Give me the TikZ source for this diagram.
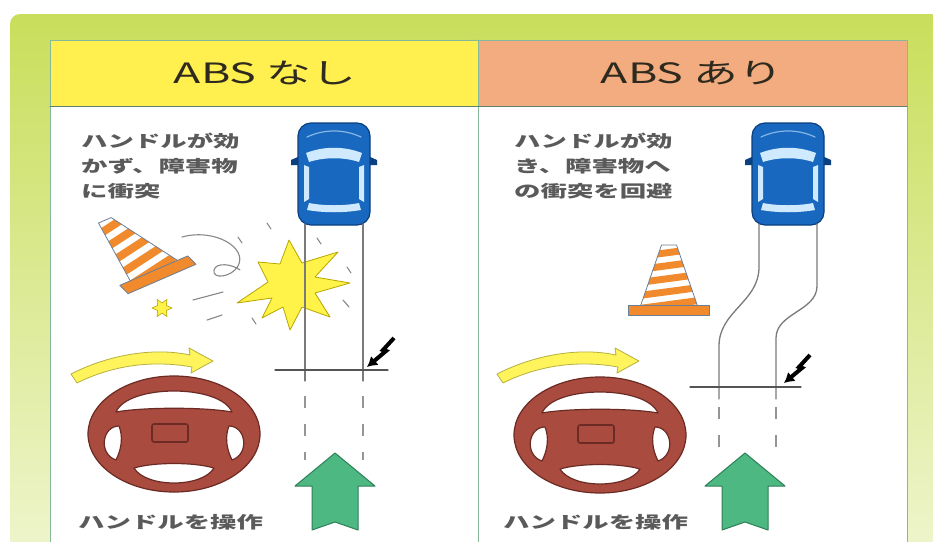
\documentclass[tikz,border=0pt]{standalone}
\usepackage{fontspec}
\newfontfamily\jpfont[FakeStretch=1.6]{Noto Sans CJK JP}
\usetikzlibrary{arrows.meta, positioning}
\definecolor{cframe}{HTML}{C9DE5B}
\definecolor{cedge}{HTML}{86B89B}
\definecolor{cyellow}{HTML}{FFEF4F}
\definecolor{csalmon}{HTML}{F3AC80}
\definecolor{chead}{HTML}{2E2A1E}
\definecolor{ctext}{HTML}{5A5A5A}
\definecolor{ccar}{HTML}{1768BE}
\definecolor{ccarline}{HTML}{0B3F80}
\definecolor{cglass}{HTML}{CFEAFF}
\definecolor{ccone}{HTML}{F08A2C}
\definecolor{cconeline}{HTML}{6C7E96}
\definecolor{cwheel}{HTML}{A94B3E}
\definecolor{cwheelline}{HTML}{6B2B24}
\definecolor{cturn}{HTML}{FFF45C}
\definecolor{cturnline}{HTML}{B5B040}
\definecolor{cgo}{HTML}{4DB882}
\definecolor{cgoline}{HTML}{2E7F58}
\definecolor{cspark}{HTML}{FFF34A}
\definecolor{csparkline}{HTML}{B8A600}
\definecolor{ctrack}{HTML}{7A7A7A}
\tikzset{
  every picture/.style={x=1pt, y=-1pt, line join=round, line cap=round},
  head/.style={font=\jpfont\fontsize{28}{30}\selectfont, text=chead, inner sep=0pt},
  note/.style={font=\jpfont\bfseries\fontsize{16.5}{25}\selectfont, text=ctext, align=left, inner sep=0pt, anchor=west},
  track/.style={draw=ctrack, line width=1.3pt},
  trackdash/.style={draw=ctrack!80, line width=1.6pt, line cap=butt, dash pattern=on 12pt off 16pt},
  stopline/.style={draw=ctrack!70!black, line width=1.2pt},
  hit/.style={draw=black, line width=4pt, line cap=butt, line join=miter, -{Latex[length=10pt, width=12pt]}},
  debris/.style={draw=ctrack!90, line width=1.1pt},
  glass/.style={fill=cglass},
  % car seen from above, front up
  car/.pic={
    \coordinate (-wl) at (-29,50);
    \coordinate (-wr) at (29,50);
    \fill[ccarline] (-34,-18) -- (-43,-14) -- (-43,-9) -- (-34,-9) -- cycle;
    \fill[ccarline] (34,-18) -- (43,-14) -- (43,-9) -- (34,-9) -- cycle;
    \filldraw[fill=ccar, draw=ccarline, line width=1.2pt, rounded corners=13pt] (-36,-51) rectangle (36,51);
    \draw[cglass!60!ccar, line width=1.2pt] (-27,-37) .. controls (-10,-45) and (10,-45) .. (27,-37);
    \fill[glass] (-28,-21) .. controls (-10,-28) and (10,-28) .. (28,-21) -- (25,-12) .. controls (10,-17) and (-10,-17) .. (-25,-12) -- cycle;
    \fill[glass] (-30,-9) -- (-25,-7) -- (-25,25) -- (-30,28) -- cycle;
    \fill[glass] (30,-9) -- (25,-7) -- (25,25) -- (30,28) -- cycle;
    \fill[glass] (-25,29) .. controls (-10,32) and (10,32) .. (25,29) -- (27,36) .. controls (10,39) and (-10,39) .. (-27,36) -- cycle;
  },
  % striped traffic cone, base centre at the origin
  cone/.pic={
    \begin{scope}
      \clip (-19,-9) -- (-5,-70) -- (5,-70) -- (19,-9) -- cycle;
      \fill[white] (-30,-75) rectangle (30,0);
      \foreach \k in {0,...,4}
        \fill[ccone] (-30,-60+13*\k) -- (30,-72+13*\k) -- (30,-65+13*\k) -- (-30,-53+13*\k) -- cycle;
    \end{scope}
    \draw[cconeline, line width=0.8pt] (-19,-9) -- (-5,-70) -- (5,-70) -- (19,-9);
    \filldraw[fill=ccone, draw=cconeline, line width=0.8pt] (-27,-10) rectangle (27,0);
  },
  % steering wheel
  wheel/.pic={
    \filldraw[fill=cwheel, draw=cwheelline, line width=1.2pt] (0,0) ellipse [x radius=86, y radius=58];
    \filldraw[fill=white, draw=cwheelline, line width=1.2pt]
      (-58,-22) .. controls (-46,-50) and (46,-50) .. (58,-22) .. controls (30,-27) and (-30,-27) .. cycle
      (-40,34) .. controls (-20,28) and (20,28) .. (40,34) .. controls (28,54) and (-28,54) .. cycle
      (-55,-8) .. controls (-72,-8) and (-76,20) .. (-58,26) .. controls (-52,14) and (-51,2) .. cycle
      (55,-8) .. controls (72,-8) and (76,20) .. (58,26) .. controls (52,14) and (51,2) .. cycle;
    \draw[cwheelline, line width=1.6pt, rounded corners=2pt] (-22,-10) rectangle (14,8);
  },
  % curved turning arrow, tip at the origin
  turn/.pic={
    \filldraw[fill=cturn, draw=cturnline, line width=0.8pt]
      (0,0) -- (-24,-13) -- (-23,-6) .. controls (-60,-14) and (-105,-6) .. (-142,13)
      -- (-136,22) .. controls (-100,4) and (-60,-1) .. (-21,6) -- (-22,12) -- cycle;
  },
  % thick arrow for the direction of travel, tip at the origin
  go/.pic={
    \filldraw[fill=cgo, draw=cgoline, line width=1pt]
      (0,0) -- (40,33) -- (23,33) -- (23,77) -- (0,69) -- (-23,77) -- (-23,33) -- (-40,33) -- cycle;
  },
}

\begin{document}
\begin{tikzpicture}
  \useasboundingbox (0,0) rectangle (933,541);
  \clip (0,0) rectangle (933,541);
  % frame and table
  \shade[top color=cframe, bottom color=cframe!25, rounded corners=10pt] (10,14) rectangle (960,600);
  \fill[white] (50,40) rectangle (907,600);
  \fill[cyellow] (50,40) rectangle (478,106);
  \fill[csalmon] (478,40) rectangle (907,106);
  \draw[cedge, line width=1pt] (50,600) -- (50,40) -- (907,40) -- (907,600);
  \draw[cedge, line width=1pt] (478,40) -- (478,600);
  \draw[cedge!70!black, line width=1pt] (50,106) -- (907,106);
  \node[head] (headL) at (265,73) {ABS なし};
  \node[head] (headR) at (692,73) {ABS あり};

  % ---- without ABS ----
  \node[note] (noteL) at (81,166) {ハンドルが効\\かず、障害物\\に衝突};
  \pic[xscale=1.5, rotate=33] (coneL) at (162,279) {cone};
  \draw[debris] (182,237) .. controls (215,228) and (248,248) .. (238,266)
    .. controls (232,277) and (212,280) .. (214,270) .. controls (216,262) and (232,264) .. (240,270);
  \foreach \a/\b in {267/223, 238/237, 317/238, 347/267, 252/318}
    \draw[debris] (\a,\b) -- ++(4,6);
  \draw[debris] (193,300) -- (223,292);
  \draw[debris] (207,320) -- (222,315);
  \draw[debris] (343,300) -- (349,307);
  \filldraw[fill=cspark, draw=csparkline, line width=0.8pt]
    (289,240) -- (302,263) -- (338,252) -- (315,277) -- (350,283) -- (315,293) -- (330,317) -- (302,307)
    -- (290,330) -- (283,307) -- (262,318) -- (272,298) -- (237,303) -- (268,282) -- (258,262) -- (280,264) -- cycle;
  \filldraw[fill=cspark, draw=csparkline, line width=0.6pt, shift={(162,308)}]
    (0:10) -- (30:5) -- (60:10) -- (90:5) -- (120:10) -- (150:5) -- (180:10) -- (210:5)
    -- (240:10) -- (270:5) -- (300:10) -- (330:5) -- cycle;
  \coordinate (endL1) at (305,381);
  \coordinate (endL2) at (363,381);
  \coordinate (stopLw) at (275,370);
  \coordinate (stopLe) at (388,370);
  \coordinate (hitLs) at (394,338);
  \coordinate (hitL) at (367,367);
  \pic (carL) at (334,174) {car};
  \draw[track] (carL-wl) -- (endL1);
  \draw[track] (carL-wr) -- (endL2);
  \draw[stopline] (stopLw) -- (stopLe);
  \draw[trackdash] (endL1) ++(0,15) -- ++(0,64);
  \draw[trackdash] (endL2) ++(0,15) -- ++(0,64);
  \draw[hit] (hitLs) -- ++(-11,12) -- ++(3,1) -- (hitL);
  \pic (turnL) at (213,361) {turn};
  \pic (wheelL) at (174,434) {wheel};
  \pic (goL) at (335,453) {go};
  \node[note] (opL) at (78,522) {ハンドルを操作};

  % ---- with ABS ----
  \node[note] (noteR) at (514,166) {ハンドルが効\\き、障害物へ\\の衝突を回避};
  \pic[xscale=1.5] (coneR) at (669,315) {cone};
  \coordinate (bendR1) at (719,346);
  \coordinate (bendR2) at (776,338);
  \coordinate (endR1) at (719,399);
  \coordinate (endR2) at (776,399);
  \coordinate (stopRw) at (690,387);
  \coordinate (stopRe) at (801,387);
  \coordinate (hitRs) at (810,355);
  \coordinate (hitR) at (784,383);
  \pic (carR) at (788,174) {car};
  \draw[track] (carR-wl) -- ++(0,43) .. controls +(0,35) and +(0,-35) .. (bendR1) -- (endR1);
  \draw[track] (carR-wr) -- ++(0,62) .. controls +(0,25) and +(0,-25) .. (bendR2) -- (endR2);
  \draw[stopline] (stopRw) -- (stopRe);
  \draw[trackdash] (endR1) ++(0,8) -- ++(0,56);
  \draw[trackdash] (endR2) ++(0,8) -- ++(0,56);
  \draw[hit] (hitRs) -- ++(-11,12) -- ++(3,1) -- (hitR);
  \pic (turnR) at (639,361) {turn};
  \pic (wheelR) at (600,435) {wheel};
  \pic (goR) at (745,453) {go};
  \node[note] (opR) at (503,522) {ハンドルを操作};
\end{tikzpicture}
\end{document}
